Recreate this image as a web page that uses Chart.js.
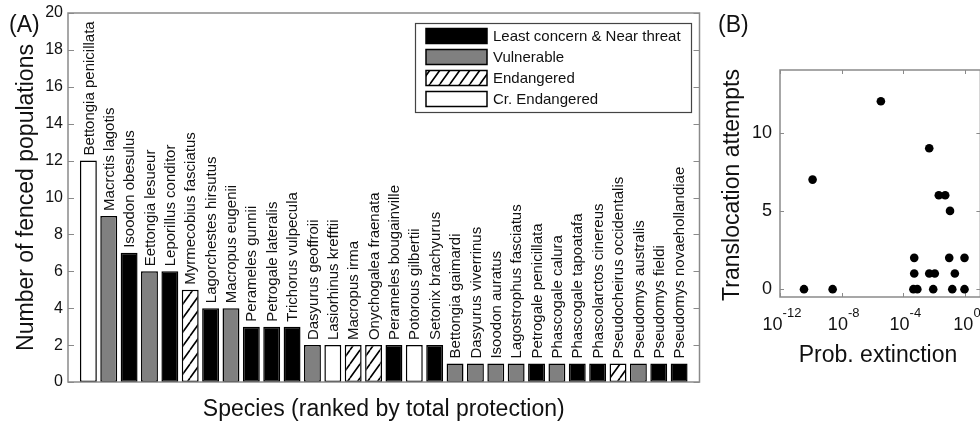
<!DOCTYPE html>
<html>
<head>
<meta charset="utf-8">
<script src="https://cdn.jsdelivr.net/npm/chart.js@4.4.1/dist/chart.umd.min.js"></script>
<style>
  html, body { margin: 0; padding: 0; background: #fff; overflow: hidden; width: 980px; height: 426px; }
  canvas { position: absolute; top: 0; }
  #panelA { left: 0; }
  #panelB { left: 700px; }
</style>
</head>
<body>
<canvas id="panelA" width="702" height="426"></canvas>
<canvas id="panelB" width="290" height="426"></canvas>
<script>
// ---- Panel A: fenced populations per species ----
const species = [
  'Bettongia penicillata', 'Macrctis lagotis', 'Isoodon obesulus', 'Eettongia lesueur',
  'Leporillus conditor', 'Myrmecobius fasciatus', 'Lagorchestes hirsutus', 'Macropus eugenii',
  'Perameles gunnii', 'Petrogale lateralis', 'Trichorus vulpecula', 'Dasyurus geoffroii',
  'Lasiorhinus krefftii', 'Macropus irma', 'Onychogalea fraenata', 'Perameles bougainville',
  'Potorous gilbertii', 'Setonix brachyurus', 'Bettongia gaimardi', 'Dasyurus viverrinus',
  'Isoodon auratus', 'Lagostrophus fasciatus', 'Petrogale penicillata', 'Phascogale calura',
  'Phascogale tapoatafa', 'Phascolarctos cinereus', 'Pseudocheirus occidentalis',
  'Pseudomys australis', 'Pseudomys fieldi', 'Pseudomys novaehollandiae'
];
const fencedPopulations = [12, 9, 7, 6, 6, 5, 4, 4, 3, 3, 3, 2, 2, 2, 2, 2, 2, 2,
  1, 1, 1, 1, 1, 1, 1, 1, 1, 1, 1, 1];
const threatStatus = ['CR', 'VU', 'LC', 'VU', 'LC', 'EN', 'LC', 'VU', 'LC', 'LC', 'LC', 'VU',
  'CR', 'EN', 'EN', 'LC', 'CR', 'LC', 'VU', 'VU', 'VU', 'VU', 'LC', 'VU', 'LC', 'LC', 'EN',
  'VU', 'LC', 'LC'];
const legendOrder = ['LC', 'VU', 'EN', 'CR'];
const legendLabels = ['Least concern & Near threat', 'Vulnerable', 'Endangered', 'Cr. Endangered'];
const yTicksA = [0, 2, 4, 6, 8, 10, 12, 14, 16, 18, 20];

// ---- Panel B: translocation attempts vs extinction probability ----
const extinctionProb = [3.6e-11, 2.6e-9, 1.3e-10, 3.5e-6, 4.8e-3, 2.0e-2, 5.2e-2, 1.07e-1,
  5.1e-4, 9.5e-2, 0.93,
  5.1e-4, 4.8e-3, 1.1e-2, 2.2e-1,
  4.5e-4, 8.1e-4, 8.7e-3, 1.5e-1, 0.93];
const translocationAttempts = [0, 0, 7, 12, 9, 6, 6, 5,
  2, 2, 2,
  1, 1, 1, 1,
  0, 0, 0, 0, 0];
const xTickExpB = [-12, -8, -4, 0];
const yTicksB = [0, 5, 10];

const FONT = '"Liberation Sans", Arial, Helvetica, sans-serif';
const TEXT = '#111';
const FRAME = '#8a8a8a';

// diagonal hatch used for the "Endangered" class
function makeHatch(ctx) {
  const w = 10, h = 14;
  const c = document.createElement('canvas');
  c.width = w; c.height = h;
  const g = c.getContext('2d');
  g.fillStyle = '#fff';
  g.fillRect(0, 0, w, h);
  g.strokeStyle = '#000';
  g.lineWidth = 1.6;
  g.beginPath();
  for (let k = -1; k <= 1; k++) {
    g.moveTo(k * w, h);
    g.lineTo(k * w + w, 0);
  }
  g.stroke();
  return ctx.createPattern(c, 'repeat');
}

const ctxA = document.getElementById('panelA').getContext('2d');
const hatch = makeHatch(ctxA);
const statusFill = { LC: '#000000', VU: '#808080', EN: hatch, CR: '#ffffff' };

const panelADecor = {
  id: 'panelADecor',
  beforeDatasetsDraw(chart) {
    const { ctx, chartArea: a, scales: { y } } = chart;
    ctx.save();
    // tick marks on both vertical sides, pointing inward
    ctx.strokeStyle = FRAME;
    ctx.lineWidth = 1;
    ctx.beginPath();
    yTicksA.forEach(v => {
      const py = Math.round(y.getPixelForValue(v)) + 0.5;
      ctx.moveTo(a.left, py); ctx.lineTo(a.left + 6, py);
      ctx.moveTo(a.right, py); ctx.lineTo(a.right - 6, py);
    });
    ctx.stroke();
    ctx.restore();
  },
  afterDatasetsDraw(chart) {
    const { ctx, chartArea: a, scales: { y } } = chart;
    ctx.save();
    // axes box
    ctx.strokeStyle = FRAME;
    ctx.lineWidth = 1.5;
    ctx.strokeRect(a.left, a.top, a.right - a.left, a.bottom - a.top);

    // y tick labels
    ctx.fillStyle = TEXT;
    ctx.font = '16px ' + FONT;
    ctx.textAlign = 'right';
    ctx.textBaseline = 'middle';
    yTicksA.forEach(v => ctx.fillText(String(v), a.left - 5, y.getPixelForValue(v)));

    // species names above each bar, reading upward
    ctx.font = '15px ' + FONT;
    ctx.textAlign = 'left';
    ctx.textBaseline = 'middle';
    const meta = chart.getDatasetMeta(0);
    meta.data.forEach((bar, i) => {
      ctx.save();
      ctx.translate(bar.x + 1, bar.y - 5);
      ctx.rotate(-Math.PI / 2);
      ctx.fillText(species[i], 0, 0);
      ctx.restore();
    });

    // axis titles and panel letter
    ctx.font = '23px ' + FONT;
    ctx.textAlign = 'center';
    ctx.textBaseline = 'alphabetic';
    ctx.fillText('Species (ranked by total protection)', (a.left + a.right) / 2, 416);
    ctx.save();
    ctx.translate(33, (a.top + a.bottom) / 2);
    ctx.rotate(-Math.PI / 2);
    ctx.fillText('Number of fenced populations', 0, 0);
    ctx.restore();
    ctx.textAlign = 'left';
    ctx.fillText('(A)', 9, 32);

    // legend
    const lx = 415, ly = 23, lw = 276, lh = 89;
    ctx.fillStyle = '#fff';
    ctx.fillRect(lx, ly, lw, lh);
    ctx.strokeStyle = '#444';
    ctx.lineWidth = 1.2;
    ctx.strokeRect(lx + 0.5, ly + 0.5, lw, lh);
    ctx.font = '15px ' + FONT;
    ctx.textBaseline = 'middle';
    legendOrder.forEach((key, k) => {
      const cy = 36 + k * 21;
      ctx.fillStyle = statusFill[key];
      ctx.fillRect(426, cy - 7.5, 61, 15);
      ctx.strokeStyle = '#000';
      ctx.lineWidth = 1.5;
      ctx.strokeRect(426, cy - 7.5, 61, 15);
      ctx.fillStyle = TEXT;
      ctx.fillText(legendLabels[k], 493, cy + 1);
    });
    ctx.restore();
  }
};

new Chart(ctxA, {
  type: 'bar',
  data: {
    datasets: [{
      data: fencedPopulations.map((v, i) => ({ x: i + 1, y: v })),
      backgroundColor: threatStatus.map(s => statusFill[s]),
      borderColor: '#000',
      borderWidth: 1.5,
      borderSkipped: false,
      categoryPercentage: 1,
      barPercentage: 0.83
    }]
  },
  options: {
    responsive: false,
    animation: false,
    devicePixelRatio: 1,
    layout: { padding: { left: 68, top: 13, right: 2.5, bottom: 44 } },
    plugins: { legend: { display: false }, tooltip: { enabled: false } },
    scales: {
      x: { type: 'linear', min: 0, max: 31, offset: false, display: false },
      y: { type: 'linear', min: 0, max: 20, display: false }
    }
  },
  plugins: [panelADecor]
});

// ---- Panel B ----
const panelBDecor = {
  id: 'panelBDecor',
  beforeDatasetsDraw(chart) {
    const { ctx, chartArea: a, scales: { x, y } } = chart;
    ctx.save();
    ctx.strokeStyle = FRAME;
    ctx.lineWidth = 1.5;
    ctx.strokeRect(a.left, a.top, a.right - a.left, a.bottom - a.top);
    ctx.lineWidth = 1;
    ctx.beginPath();
    xTickExpB.forEach(e => {
      const px = Math.round(x.getPixelForValue(Math.pow(10, e))) + 0.5;
      ctx.moveTo(px, a.bottom); ctx.lineTo(px, a.bottom - 4);
      ctx.moveTo(px, a.top); ctx.lineTo(px, a.top + 4);
    });
    yTicksB.forEach(v => {
      const py = Math.round(y.getPixelForValue(v)) + 0.5;
      ctx.moveTo(a.left, py); ctx.lineTo(a.left + 4, py);
      ctx.moveTo(a.right, py); ctx.lineTo(a.right - 4, py);
    });
    ctx.stroke();

    ctx.fillStyle = TEXT;
    // x tick labels as 10 with a raised exponent
    ctx.textBaseline = 'alphabetic';
    ctx.textAlign = 'left';
    xTickExpB.forEach(e => {
      const px = x.getPixelForValue(Math.pow(10, e));
      ctx.font = '18px ' + FONT;
      const wBase = ctx.measureText('10').width;
      ctx.font = '13px ' + FONT;
      const expTxt = String(e);
      const wExp = ctx.measureText(expTxt).width;
      const start = px + 2 - (wBase + wExp) / 2;
      ctx.font = '18px ' + FONT;
      ctx.fillText('10', start, 330);
      ctx.font = '13px ' + FONT;
      ctx.fillText(expTxt, start + wBase, 317);
    });
    // y tick labels
    ctx.font = '18px ' + FONT;
    ctx.textAlign = 'right';
    ctx.textBaseline = 'middle';
    yTicksB.forEach(v => ctx.fillText(String(v), a.left - 8, y.getPixelForValue(v)));

    // titles
    ctx.font = '23px ' + FONT;
    ctx.textAlign = 'center';
    ctx.textBaseline = 'alphabetic';
    ctx.fillText('Prob. extinction', 178, 362);
    ctx.save();
    ctx.translate(38.5, 185);
    ctx.rotate(-Math.PI / 2);
    ctx.fillText('Translocation attempts', 0, 0);
    ctx.restore();
    ctx.textAlign = 'left';
    ctx.fillText('(B)', 18, 32);
    ctx.restore();
  }
};

new Chart(document.getElementById('panelB').getContext('2d'), {
  type: 'scatter',
  data: {
    datasets: [{
      data: extinctionProb.map((p, i) => ({ x: p, y: translocationAttempts[i] })),
      backgroundColor: '#000',
      borderWidth: 0,
      pointRadius: 4.3,
      pointHoverRadius: 4.3
    }]
  },
  options: {
    responsive: false,
    animation: false,
    devicePixelRatio: 1,
    layout: { padding: { left: 80, top: 70, right: 9.6, bottom: 129 } },
    plugins: { legend: { display: false }, tooltip: { enabled: false } },
    scales: {
      x: { type: 'logarithmic', min: 1e-12, max: 10, display: false },
      y: { type: 'linear', min: -0.5, max: 14, display: false }
    }
  },
  plugins: [panelBDecor]
});
</script>
</body>
</html>
